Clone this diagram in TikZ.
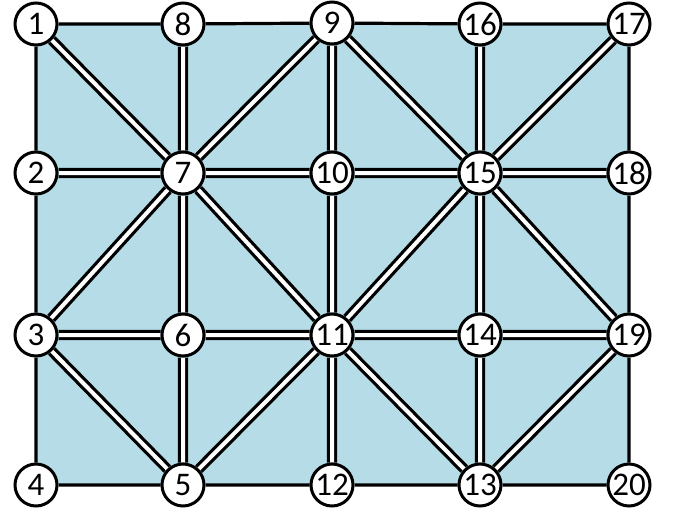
\documentclass[tikz,border=0pt]{standalone}
\usepackage{fontspec}
\setmainfont{Carlito}
\usepackage{xcolor}
\usetikzlibrary{positioning,backgrounds}
\definecolor{meshblue}{RGB}{182,221,231}
\tikzset{
  vert/.style={circle, draw=black, line width=3pt, fill=white, minimum size=42pt,
    inner sep=0pt, font=\fontsize{33}{33}\selectfont},
  rim/.style={black, line width=3.2pt},
  bar/.style={black, line width=3.2pt, double=white, double distance=4pt}
}

\begin{document}
\begin{tikzpicture}[x=1pt,y=-1pt]
\useasboundingbox (0,0) rectangle (681,515);
% vertices
\node[vert] (n1) at (36,24) {1};
\node[vert] (n8) at (183,24) {8};
\node[vert] (n9) at (332,23) {9};
\node[vert] (n16) at (480,24) {16};
\node[vert] (n17) at (629,24) {17};
\node[vert] (n2) at (36,173) {2};
\node[vert] (n7) at (183,173) {7};
\node[vert] (n10) at (332,173) {10};
\node[vert] (n15) at (480,173) {15};
\node[vert] (n18) at (629,173) {18};
\node[vert] (n3) at (36,335) {3};
\node[vert] (n6) at (183,335) {6};
\node[vert] (n11) at (332,335) {11};
\node[vert] (n14) at (480,335) {14};
\node[vert] (n19) at (629,335) {19};
\node[vert] (n4) at (36,485) {4};
\node[vert] (n5) at (183,485) {5};
\node[vert] (n12) at (332,485) {12};
\node[vert] (n13) at (480,485) {13};
\node[vert] (n20) at (629,485) {20};

\begin{pgfonlayer}{background}
\fill[meshblue] (n1.center) rectangle (n20.center);
% outer boundary
\draw[rim] (n1) -- (n8) (n8) -- (n9) (n9) -- (n16) (n16) -- (n17)
  (n17) -- (n18) (n18) -- (n19) (n19) -- (n20)
  (n20) -- (n13) (n13) -- (n12) (n12) -- (n5) (n5) -- (n4)
  (n4) -- (n3) (n3) -- (n2) (n2) -- (n1);
% inner edges
\draw[bar] (n1) -- (n7) (n8) -- (n7) (n2) -- (n7) (n9) -- (n7)
  (n7) -- (n10) (n7) -- (n3) (n7) -- (n6) (n7) -- (n11);
\draw[bar] (n9) -- (n10) (n9) -- (n15) (n16) -- (n15) (n17) -- (n15)
  (n10) -- (n15) (n15) -- (n18) (n10) -- (n11) (n15) -- (n11)
  (n15) -- (n14) (n15) -- (n19);
\draw[bar] (n3) -- (n6) (n6) -- (n11) (n3) -- (n5) (n6) -- (n5)
  (n11) -- (n5) (n11) -- (n14) (n14) -- (n19) (n11) -- (n12)
  (n11) -- (n13) (n14) -- (n13) (n19) -- (n13);
\end{pgfonlayer}
\end{tikzpicture}
\end{document}
